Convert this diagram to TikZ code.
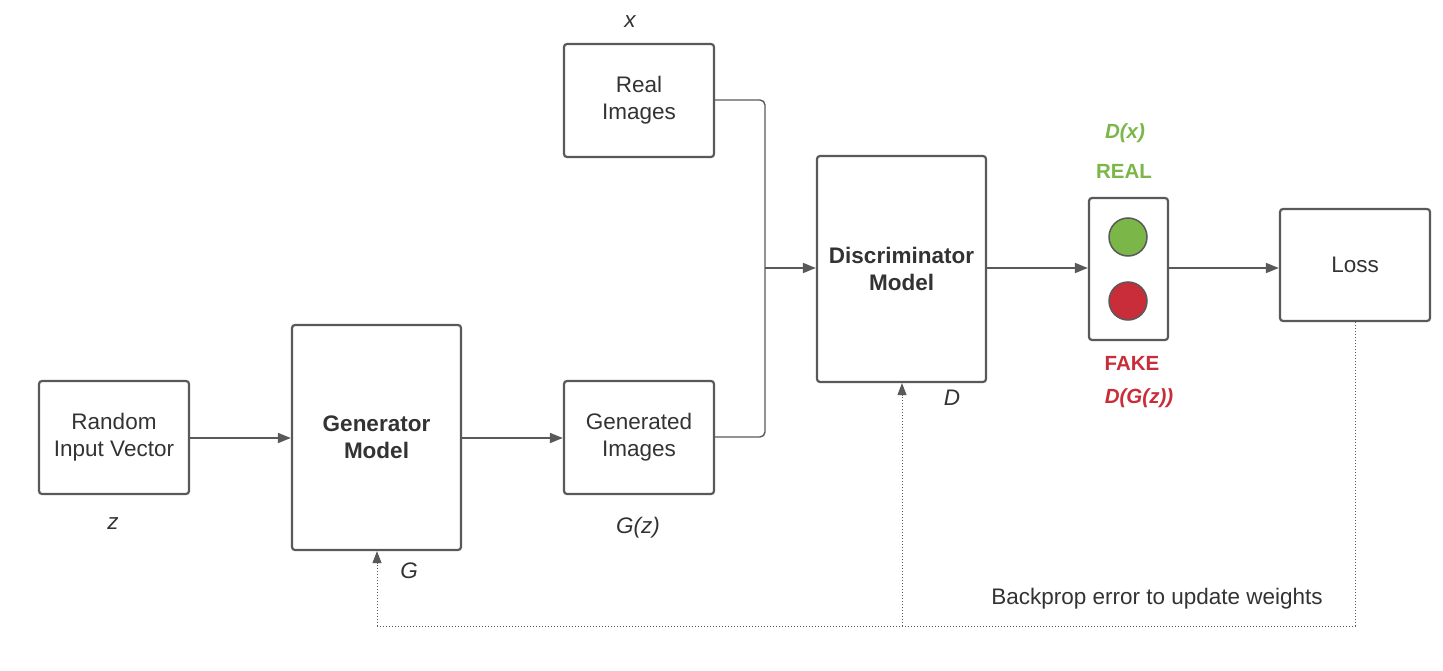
\documentclass[tikz,border=0pt]{standalone}
\usepackage{fontspec}
\setmainfont{Liberation Sans}
\usetikzlibrary{arrows.meta}
\definecolor{ln}{HTML}{595959}
\definecolor{tx}{HTML}{333333}
\definecolor{gr}{HTML}{7AB648}
\definecolor{rd}{HTML}{C92D39}
\begin{document}
\begin{tikzpicture}[x=1pt,y=-1pt,
  box/.style={draw=ln,line width=2.2pt,rounded corners=3pt,align=center,text=tx,font=\fontsize{22.5}{27}\selectfont,inner sep=0pt},
  arr/.style={draw=ln,line width=1.4pt,-{Triangle[length=13pt,width=10pt]}},
  dot/.style={draw=ln,line width=1pt,dotted},
  lbl/.style={text=tx,font=\fontsize{22.5}{27}\selectfont\itshape}]
\useasboundingbox (0,0) rectangle (1443,671);
\node[box,minimum width=150pt,minimum height=113pt] (riv) at (114,437.5) {Random\\Input Vector};
\node[box,minimum width=169pt,minimum height=225pt,font=\fontsize{22.5}{27}\selectfont\bfseries] (gen) at (376.5,437.5) {Generator\\Model};
\node[box,minimum width=150pt,minimum height=113pt] (gi) at (639,437.5) {Generated\\Images};
\node[box,minimum width=150pt,minimum height=113pt] (ri) at (639,100.5) {Real\\Images};
\node[box,minimum width=169pt,minimum height=226pt,font=\fontsize{22.5}{27}\selectfont\bfseries] (dis) at (901.5,269) {Discriminator\\Model};
\node[box,minimum width=79pt,minimum height=142pt] (tl) at (1128.5,269) {};
\fill[gr,draw=ln,line width=1.5pt] (1128,237) circle (19pt);
\fill[rd,draw=ln,line width=1.5pt] (1128,301) circle (19pt);
\node[box,minimum width=150pt,minimum height=112pt] (loss) at (1355,265) {Loss};
\coordinate (j) at (765,268);
\draw[arr] (riv.east|-0,438) -- (gen.west|-0,438);
\draw[arr] (gen.east|-0,438) -- (gi.west|-0,438);
\draw[draw=ln,line width=1.4pt,rounded corners=5pt] (ri.east|-0,100) -- (765,100) -- (765,268);
\draw[draw=ln,line width=1.4pt,rounded corners=5pt] (gi.east|-0,437) -- (765,437) -- (765,268);
\draw[arr] (j) -- (dis.west|-j);
\draw[arr] (dis.east|-j) -- (tl.west|-j);
\draw[arr] (tl.east|-j) -- (loss.west|-j);
\coordinate (c1) at (1355,626);
\coordinate (c2) at (377,626);
\coordinate (c3) at (902,626);
\draw[dot] (loss.south) -- (c1) -- (c2);
\draw[dot,-{Triangle[length=12pt,width=9pt]}] (c2) -- (gen.south-|c2);
\draw[dot,-{Triangle[length=12pt,width=9pt]}] (c3) -- (dis.south-|c3);
\node[lbl] (lx) at (630,22) {x};
\node[lbl] (lz) at (113,524) {z};
\node[lbl] (lg) at (409,571) {G};
\node[lbl] (lgz) at (638,528) {G(z)};
\node[lbl] (ld) at (952,398) {D};
\node[text=gr,font=\fontsize{20.5}{24}\selectfont\bfseries\itshape] (ldx) at (1125,133) {D(x)};
\node[text=gr,font=\fontsize{20.5}{24}\selectfont\bfseries] (lreal) at (1124,171) {REAL};
\node[text=rd,font=\fontsize{20.5}{24}\selectfont\bfseries] (lfake) at (1132,363) {FAKE};
\node[text=rd,font=\fontsize{20.5}{24}\selectfont\bfseries\itshape] (ldgz) at (1139,398) {D(G(z))};
\node[text=tx,font=\fontsize{22.5}{27}\selectfont] (bp) at (1157,599) {Backprop error to update weights};
\end{tikzpicture}
\end{document}
